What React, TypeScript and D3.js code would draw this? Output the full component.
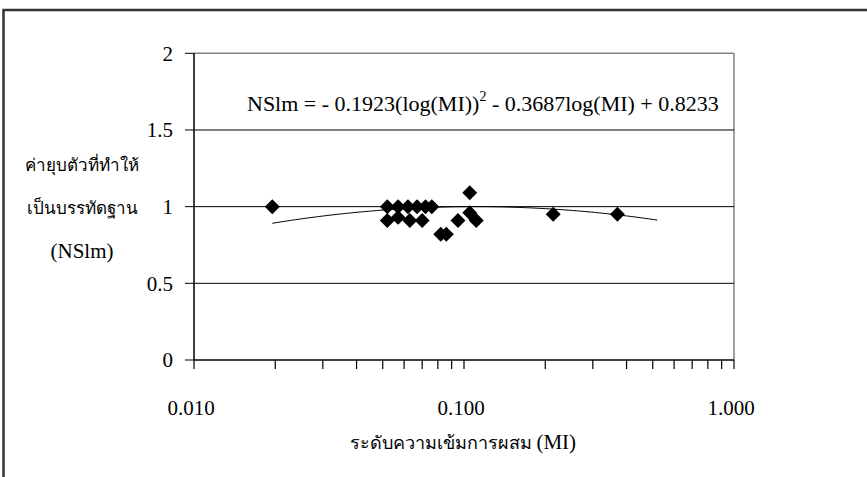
import React from 'react';
import * as d3 from 'd3';

const miValues = [0.0195, 0.052, 0.052, 0.057, 0.057, 0.062, 0.063, 0.067, 0.070, 0.072, 0.076, 0.082, 0.086, 0.095, 0.105, 0.105, 0.111, 0.214, 0.37];
const nslmValues = [1.0, 1.0, 0.91, 1.0, 0.93, 1.0, 0.91, 1.0, 0.91, 1.0, 1.0, 0.82, 0.82, 0.91, 1.09, 0.96, 0.91, 0.95, 0.95];
const yTicks = [0, 0.5, 1, 1.5, 2];
const yTickLabels = ['0', '0.5', '1', '1.5', '2'];
const xMajorTicks = [0.01, 0.1, 1];
const xTickLabels = ['0.010', '0.100', '1.000'];
const trendCoef = [-0.1923, -0.3687, 0.8233];
const trendRange = [0.0195, 0.52];
const yTitleLines = ['ค่ายุบตัวที่ทำให้', 'เป็นบรรทัดฐาน', '(NSlm)'];
const xTitleThai = 'ระดับความเข้มการผสม';
const xTitleUnit = '(MI)';

const FONT = '"Liberation Serif", "Times New Roman", serif';

export default function App() {
  const x = d3.scaleLog().domain([0.01, 1]).range([194, 734]);
  const y = d3.scaleLinear().domain([0, 2]).range([360, 53.3]);
  const allTicks = x.ticks();
  const trendFn = (m: number) => {
    const L = Math.log10(m);
    return trendCoef[0] * L * L + trendCoef[1] * L + trendCoef[2];
  };
  const lg0 = Math.log10(trendRange[0]);
  const lg1 = Math.log10(trendRange[1]);
  const samples = d3.range(0, 101).map(i => Math.pow(10, lg0 + (lg1 - lg0) * i / 100));
  const line = d3.line<number>().x(d => x(d)).y(d => y(trendFn(d)));
  const diamond = d3.symbol().type(d3.symbolSquare).size(112)();
  const [x0, x1] = x.range();
  const [y0, y1] = y.range();

  return (
    <svg width={867} height={477} style={{ position: 'absolute', left: 0, top: 0, background: '#fff' }} fontFamily={FONT}>
      <rect x={3.5} y={10} width={900} height={500} fill="#fff" stroke="#333" strokeWidth={2.5} />
      {/* plot area border */}
      <line x1={x0} x2={x1} y1={y1} y2={y1} stroke="#808080" strokeWidth={1.5} />
      <line x1={x1} x2={x1} y1={y1} y2={y0} stroke="#808080" strokeWidth={1.5} />
      {/* gridlines */}
      {yTicks.filter(t => t > 0 && t < 2).map(t => (
        <line key={t} x1={x0} x2={x1} y1={y(t)} y2={y(t)} stroke="#000" strokeWidth={1} />
      ))}
      {/* y axis */}
      <line x1={x0} x2={x0} y1={y1} y2={y0} stroke="#000" strokeWidth={1.5} />
      {yTicks.map((t, i) => (
        <g key={t}>
          <line x1={x0 - 9} x2={x0} y1={y(t)} y2={y(t)} stroke="#000" strokeWidth={1} />
          <text x={173} y={y(t)} dy="0.35em" textAnchor="end" fontSize={21}>{yTickLabels[i]}</text>
        </g>
      ))}
      {/* x axis */}
      <line x1={x0} x2={x1} y1={y0} y2={y0} stroke="#000" strokeWidth={1.5} />
      {allTicks.map(t => (
        <line key={t} x1={x(t)} x2={x(t)} y1={y0} y2={y0 + 9} stroke="#000" strokeWidth={1.2} />
      ))}
      {xMajorTicks.map((t, i) => (
        <text key={t} x={x(t) - 3} y={408} dy="0.35em" textAnchor="middle" fontSize={21}>{xTickLabels[i]}</text>
      ))}
      {/* trend line */}
      <path d={line(samples) || ''} fill="none" stroke="#000" strokeWidth={1} />
      {/* points */}
      {miValues.map((m, i) => (
        <path key={i} d={diamond || ''} transform={`translate(${x(m)},${y(nslmValues[i])}) rotate(45)`} fill="#000" />
      ))}
      {/* equation */}
      <text x={247} y={103} dy="0.35em" fontSize={22}>
        NSlm = - 0.1923(log(MI))
        <tspan dy={-10} fontSize={14}>2</tspan>
        <tspan dy={10}> - 0.3687log(MI) + 0.8233</tspan>
      </text>
      {/* y title */}
      {yTitleLines.map((s, i) => (
        <text key={i} x={82} y={165 + i * 43} dy="0.35em" textAnchor="middle" fontSize={i === 2 ? 21 : 17}>{s}</text>
      ))}
      {/* x title */}
      <text x={463} y={443} dy="0.35em" textAnchor="middle" fontSize={18}>
        {xTitleThai} <tspan fontSize={21}>{xTitleUnit}</tspan>
      </text>
    </svg>
  );
}
